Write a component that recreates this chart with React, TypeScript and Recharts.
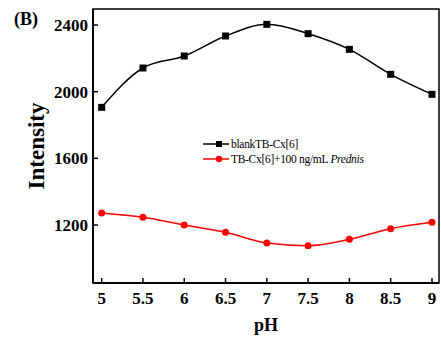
import React from 'react';
import { LineChart, Line, XAxis, YAxis, Customized, ReferenceArea } from 'recharts';

const phValues = [5, 5.5, 6, 6.5, 7, 7.5, 8, 8.5, 9];
const blankSeries = [1906, 2142, 2214, 2334, 2404, 2348, 2254, 2104, 1984];
const predSeries = [1272, 1246, 1200, 1156, 1092, 1076, 1114, 1178, 1216];
const xTicks = [5, 5.5, 6, 6.5, 7, 7.5, 8, 8.5, 9];
const yTicks = [1200, 1600, 2000, 2400];
const xDomain: [number, number] = [4.895, 9.085];
const yDomain: [number, number] = [852, 2496];
const legendNames = ['blankTB-Cx[6]', 'TB-Cx[6]+100 ng/mL '];
const legendItalic = ['', 'Prednis'];

const data = phValues.map((ph, i) => ({ ph, blank: blankSeries[i], pred: predSeries[i] }));

const FONT = '"Times New Roman", "Liberation Serif", serif';

const SquareDot = (props: any) => {
  const { cx, cy, index } = props;
  if (cx == null || cy == null) return null;
  return <rect key={`sq-${index}`} x={cx - 3.5} y={cy - 3.5} width={7} height={7} fill="#000" />;
};

const Texts = () => (
  <g fontFamily={FONT} fill="#000">
    <text x={14} y={25} fontSize={18} fontWeight="bold">(B)</text>
    <text x={36} y={146} fontSize={23} fontWeight="bold" textAnchor="middle" dominantBaseline="central" transform="rotate(-90 36 146)">Intensity</text>
    <text x={266} y={331} fontSize={18} fontWeight="bold" textAnchor="middle">pH</text>
    <g>
      <line x1={203} y1={144} x2={229} y2={144} stroke="#000" strokeWidth={1.5} />
      <rect x={216} y={141} width={6} height={6} fill="#000" />
      <text x={231} y={148} fontSize={11.5} letterSpacing={-0.3}>{legendNames[0]}</text>
      <line x1={203} y1={159} x2={229} y2={159} stroke="#ff0000" strokeWidth={1.5} />
      <circle cx={219} cy={159} r={3.2} fill="#ff0000" />
      <text x={231} y={163} fontSize={11.5} letterSpacing={-0.3}>
        {legendNames[1]}
        <tspan fontStyle="italic">{legendItalic[1]}</tspan>
      </text>
    </g>
  </g>
);

export default function App() {
  return (
    <div style={{ position: 'absolute', left: 0, top: 0 }}>
      <LineChart width={441} height={342} data={data} margin={{ top: 9, right: 2, bottom: 0, left: 0 }}>
        <ReferenceArea
          x1={xDomain[0]}
          x2={xDomain[1]}
          y1={yDomain[0]}
          y2={yDomain[1]}
          fill="none"
          fillOpacity={0}
          stroke="#000"
          strokeWidth={1.5}
          ifOverflow="visible"
        />
        <XAxis
          dataKey="ph"
          type="number"
          domain={xDomain}
          ticks={xTicks}
          height={59}
          axisLine={{ stroke: '#000', strokeWidth: 2 }}
          tickLine={{ stroke: '#000', strokeWidth: 1.5 }}
          tickSize={-5}
          tickMargin={14}
          tick={{ fill: '#000', fontSize: 17, fontWeight: 'bold', fontFamily: FONT }}
          allowDataOverflow
        />
        <YAxis
          type="number"
          domain={yDomain}
          ticks={yTicks}
          width={93}
          axisLine={{ stroke: '#000', strokeWidth: 2 }}
          tickLine={{ stroke: '#000', strokeWidth: 1.5 }}
          tickSize={-5}
          tickMargin={10}
          tick={{ fill: '#000', fontSize: 17, fontWeight: 'bold', fontFamily: FONT }}
          allowDataOverflow
        />
        <Line
          type="monotone"
          dataKey="blank"
          stroke="#000"
          strokeWidth={1.5}
          dot={SquareDot}
          isAnimationActive={false}
        />
        <Line
          type="monotone"
          dataKey="pred"
          stroke="#ff0000"
          strokeWidth={1.5}
          dot={{ r: 3.5, fill: '#ff0000', stroke: '#ff0000', strokeWidth: 0 }}
          isAnimationActive={false}
        />
        <Customized component={Texts} />
      </LineChart>
    </div>
  );
}
